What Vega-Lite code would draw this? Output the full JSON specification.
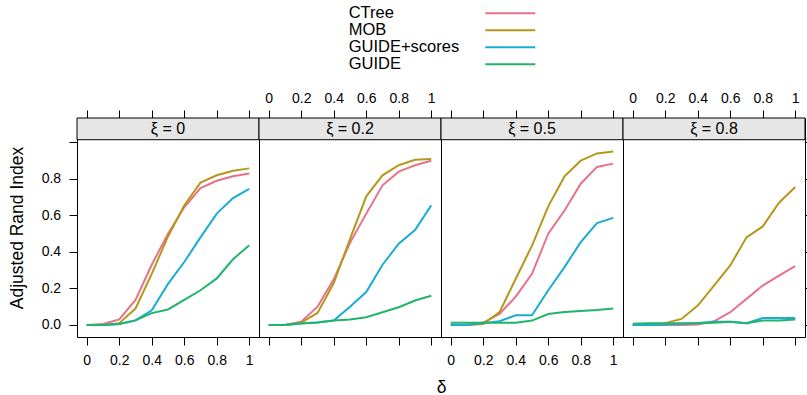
{
  "$schema": "https://vega.github.io/schema/vega-lite/v6.json",
  "padding": {"left": 7, "top": 5, "right": 0, "bottom": 0},
  "spacing": 17,
  "data": {"values": [
    {"xi":0,"m":"CTree","d":0,"a":0},{"xi":0,"m":"CTree","d":0.1,"a":0.005},{"xi":0,"m":"CTree","d":0.2,"a":0.03},{"xi":0,"m":"CTree","d":0.3,"a":0.137},{"xi":0,"m":"CTree","d":0.4,"a":0.33},{"xi":0,"m":"CTree","d":0.5,"a":0.5},{"xi":0,"m":"CTree","d":0.6,"a":0.645},{"xi":0,"m":"CTree","d":0.7,"a":0.75},{"xi":0,"m":"CTree","d":0.8,"a":0.79},{"xi":0,"m":"CTree","d":0.9,"a":0.815},{"xi":0,"m":"CTree","d":1,"a":0.83},
    {"xi":0,"m":"MOB","d":0,"a":0},{"xi":0,"m":"MOB","d":0.1,"a":0},{"xi":0,"m":"MOB","d":0.2,"a":0.01},{"xi":0,"m":"MOB","d":0.3,"a":0.09},{"xi":0,"m":"MOB","d":0.4,"a":0.28},{"xi":0,"m":"MOB","d":0.5,"a":0.485},{"xi":0,"m":"MOB","d":0.6,"a":0.655},{"xi":0,"m":"MOB","d":0.7,"a":0.78},{"xi":0,"m":"MOB","d":0.8,"a":0.82},{"xi":0,"m":"MOB","d":0.9,"a":0.845},{"xi":0,"m":"MOB","d":1,"a":0.858},
    {"xi":0,"m":"GUIDE+scores","d":0,"a":0},{"xi":0,"m":"GUIDE+scores","d":0.1,"a":0},{"xi":0,"m":"GUIDE+scores","d":0.2,"a":0.005},{"xi":0,"m":"GUIDE+scores","d":0.3,"a":0.025},{"xi":0,"m":"GUIDE+scores","d":0.4,"a":0.08},{"xi":0,"m":"GUIDE+scores","d":0.5,"a":0.225},{"xi":0,"m":"GUIDE+scores","d":0.6,"a":0.345},{"xi":0,"m":"GUIDE+scores","d":0.7,"a":0.48},{"xi":0,"m":"GUIDE+scores","d":0.8,"a":0.61},{"xi":0,"m":"GUIDE+scores","d":0.9,"a":0.695},{"xi":0,"m":"GUIDE+scores","d":1,"a":0.745},
    {"xi":0,"m":"GUIDE","d":0,"a":0},{"xi":0,"m":"GUIDE","d":0.1,"a":0},{"xi":0,"m":"GUIDE","d":0.2,"a":0.005},{"xi":0,"m":"GUIDE","d":0.3,"a":0.025},{"xi":0,"m":"GUIDE","d":0.4,"a":0.065},{"xi":0,"m":"GUIDE","d":0.5,"a":0.085},{"xi":0,"m":"GUIDE","d":0.6,"a":0.137},{"xi":0,"m":"GUIDE","d":0.7,"a":0.19},{"xi":0,"m":"GUIDE","d":0.8,"a":0.255},{"xi":0,"m":"GUIDE","d":0.9,"a":0.36},{"xi":0,"m":"GUIDE","d":1,"a":0.437},
    {"xi":0.2,"m":"CTree","d":0,"a":0},{"xi":0.2,"m":"CTree","d":0.1,"a":0},{"xi":0.2,"m":"CTree","d":0.2,"a":0.018},{"xi":0.2,"m":"CTree","d":0.3,"a":0.1},{"xi":0.2,"m":"CTree","d":0.4,"a":0.25},{"xi":0.2,"m":"CTree","d":0.5,"a":0.45},{"xi":0.2,"m":"CTree","d":0.6,"a":0.61},{"xi":0.2,"m":"CTree","d":0.7,"a":0.765},{"xi":0.2,"m":"CTree","d":0.8,"a":0.84},{"xi":0.2,"m":"CTree","d":0.9,"a":0.875},{"xi":0.2,"m":"CTree","d":1,"a":0.9},
    {"xi":0.2,"m":"MOB","d":0,"a":0},{"xi":0.2,"m":"MOB","d":0.1,"a":0},{"xi":0.2,"m":"MOB","d":0.2,"a":0.013},{"xi":0.2,"m":"MOB","d":0.3,"a":0.066},{"xi":0.2,"m":"MOB","d":0.4,"a":0.23},{"xi":0.2,"m":"MOB","d":0.5,"a":0.47},{"xi":0.2,"m":"MOB","d":0.6,"a":0.705},{"xi":0.2,"m":"MOB","d":0.7,"a":0.82},{"xi":0.2,"m":"MOB","d":0.8,"a":0.875},{"xi":0.2,"m":"MOB","d":0.9,"a":0.905},{"xi":0.2,"m":"MOB","d":1,"a":0.91},
    {"xi":0.2,"m":"GUIDE+scores","d":0,"a":0},{"xi":0.2,"m":"GUIDE+scores","d":0.1,"a":0},{"xi":0.2,"m":"GUIDE+scores","d":0.2,"a":0.008},{"xi":0.2,"m":"GUIDE+scores","d":0.3,"a":0.013},{"xi":0.2,"m":"GUIDE+scores","d":0.4,"a":0.024},{"xi":0.2,"m":"GUIDE+scores","d":0.5,"a":0.1},{"xi":0.2,"m":"GUIDE+scores","d":0.6,"a":0.18},{"xi":0.2,"m":"GUIDE+scores","d":0.7,"a":0.33},{"xi":0.2,"m":"GUIDE+scores","d":0.8,"a":0.445},{"xi":0.2,"m":"GUIDE+scores","d":0.9,"a":0.52},{"xi":0.2,"m":"GUIDE+scores","d":1,"a":0.655},
    {"xi":0.2,"m":"GUIDE","d":0,"a":0},{"xi":0.2,"m":"GUIDE","d":0.1,"a":0},{"xi":0.2,"m":"GUIDE","d":0.2,"a":0.009},{"xi":0.2,"m":"GUIDE","d":0.3,"a":0.013},{"xi":0.2,"m":"GUIDE","d":0.4,"a":0.024},{"xi":0.2,"m":"GUIDE","d":0.5,"a":0.03},{"xi":0.2,"m":"GUIDE","d":0.6,"a":0.042},{"xi":0.2,"m":"GUIDE","d":0.7,"a":0.07},{"xi":0.2,"m":"GUIDE","d":0.8,"a":0.097},{"xi":0.2,"m":"GUIDE","d":0.9,"a":0.134},{"xi":0.2,"m":"GUIDE","d":1,"a":0.16},
    {"xi":0.5,"m":"CTree","d":0,"a":0},{"xi":0.5,"m":"CTree","d":0.1,"a":0},{"xi":0.5,"m":"CTree","d":0.2,"a":0.013},{"xi":0.5,"m":"CTree","d":0.3,"a":0.06},{"xi":0.5,"m":"CTree","d":0.4,"a":0.155},{"xi":0.5,"m":"CTree","d":0.5,"a":0.28},{"xi":0.5,"m":"CTree","d":0.6,"a":0.5},{"xi":0.5,"m":"CTree","d":0.7,"a":0.627},{"xi":0.5,"m":"CTree","d":0.8,"a":0.774},{"xi":0.5,"m":"CTree","d":0.9,"a":0.866},{"xi":0.5,"m":"CTree","d":1,"a":0.884},
    {"xi":0.5,"m":"MOB","d":0,"a":0},{"xi":0.5,"m":"MOB","d":0.1,"a":0},{"xi":0.5,"m":"MOB","d":0.2,"a":0.005},{"xi":0.5,"m":"MOB","d":0.3,"a":0.07},{"xi":0.5,"m":"MOB","d":0.4,"a":0.253},{"xi":0.5,"m":"MOB","d":0.5,"a":0.435},{"xi":0.5,"m":"MOB","d":0.6,"a":0.65},{"xi":0.5,"m":"MOB","d":0.7,"a":0.814},{"xi":0.5,"m":"MOB","d":0.8,"a":0.9},{"xi":0.5,"m":"MOB","d":0.9,"a":0.94},{"xi":0.5,"m":"MOB","d":1,"a":0.95},
    {"xi":0.5,"m":"GUIDE+scores","d":0,"a":0},{"xi":0.5,"m":"GUIDE+scores","d":0.1,"a":0},{"xi":0.5,"m":"GUIDE+scores","d":0.2,"a":0.01},{"xi":0.5,"m":"GUIDE+scores","d":0.3,"a":0.02},{"xi":0.5,"m":"GUIDE+scores","d":0.4,"a":0.053},{"xi":0.5,"m":"GUIDE+scores","d":0.5,"a":0.053},{"xi":0.5,"m":"GUIDE+scores","d":0.6,"a":0.19},{"xi":0.5,"m":"GUIDE+scores","d":0.7,"a":0.317},{"xi":0.5,"m":"GUIDE+scores","d":0.8,"a":0.454},{"xi":0.5,"m":"GUIDE+scores","d":0.9,"a":0.558},{"xi":0.5,"m":"GUIDE+scores","d":1,"a":0.587},
    {"xi":0.5,"m":"GUIDE","d":0,"a":0.012},{"xi":0.5,"m":"GUIDE","d":0.1,"a":0.012},{"xi":0.5,"m":"GUIDE","d":0.2,"a":0.012},{"xi":0.5,"m":"GUIDE","d":0.3,"a":0.012},{"xi":0.5,"m":"GUIDE","d":0.4,"a":0.012},{"xi":0.5,"m":"GUIDE","d":0.5,"a":0.024},{"xi":0.5,"m":"GUIDE","d":0.6,"a":0.06},{"xi":0.5,"m":"GUIDE","d":0.7,"a":0.071},{"xi":0.5,"m":"GUIDE","d":0.8,"a":0.077},{"xi":0.5,"m":"GUIDE","d":0.9,"a":0.082},{"xi":0.5,"m":"GUIDE","d":1,"a":0.09},
    {"xi":0.8,"m":"CTree","d":0,"a":0},{"xi":0.8,"m":"CTree","d":0.1,"a":0},{"xi":0.8,"m":"CTree","d":0.2,"a":0},{"xi":0.8,"m":"CTree","d":0.3,"a":0},{"xi":0.8,"m":"CTree","d":0.4,"a":0.002},{"xi":0.8,"m":"CTree","d":0.5,"a":0.02},{"xi":0.8,"m":"CTree","d":0.6,"a":0.07},{"xi":0.8,"m":"CTree","d":0.7,"a":0.143},{"xi":0.8,"m":"CTree","d":0.8,"a":0.216},{"xi":0.8,"m":"CTree","d":0.9,"a":0.27},{"xi":0.8,"m":"CTree","d":1,"a":0.322},
    {"xi":0.8,"m":"MOB","d":0,"a":0},{"xi":0.8,"m":"MOB","d":0.1,"a":0},{"xi":0.8,"m":"MOB","d":0.2,"a":0.01},{"xi":0.8,"m":"MOB","d":0.3,"a":0.033},{"xi":0.8,"m":"MOB","d":0.4,"a":0.106},{"xi":0.8,"m":"MOB","d":0.5,"a":0.216},{"xi":0.8,"m":"MOB","d":0.6,"a":0.326},{"xi":0.8,"m":"MOB","d":0.7,"a":0.48},{"xi":0.8,"m":"MOB","d":0.8,"a":0.54},{"xi":0.8,"m":"MOB","d":0.9,"a":0.67},{"xi":0.8,"m":"MOB","d":1,"a":0.756},
    {"xi":0.8,"m":"GUIDE+scores","d":0,"a":0},{"xi":0.8,"m":"GUIDE+scores","d":0.1,"a":0},{"xi":0.8,"m":"GUIDE+scores","d":0.2,"a":0.003},{"xi":0.8,"m":"GUIDE+scores","d":0.3,"a":0.005},{"xi":0.8,"m":"GUIDE+scores","d":0.4,"a":0.011},{"xi":0.8,"m":"GUIDE+scores","d":0.5,"a":0.018},{"xi":0.8,"m":"GUIDE+scores","d":0.6,"a":0.018},{"xi":0.8,"m":"GUIDE+scores","d":0.7,"a":0.01},{"xi":0.8,"m":"GUIDE+scores","d":0.8,"a":0.038},{"xi":0.8,"m":"GUIDE+scores","d":0.9,"a":0.038},{"xi":0.8,"m":"GUIDE+scores","d":1,"a":0.038},
    {"xi":0.8,"m":"GUIDE","d":0,"a":0.007},{"xi":0.8,"m":"GUIDE","d":0.1,"a":0.009},{"xi":0.8,"m":"GUIDE","d":0.2,"a":0.009},{"xi":0.8,"m":"GUIDE","d":0.3,"a":0.009},{"xi":0.8,"m":"GUIDE","d":0.4,"a":0.009},{"xi":0.8,"m":"GUIDE","d":0.5,"a":0.012},{"xi":0.8,"m":"GUIDE","d":0.6,"a":0.018},{"xi":0.8,"m":"GUIDE","d":0.7,"a":0.009},{"xi":0.8,"m":"GUIDE","d":0.8,"a":0.024},{"xi":0.8,"m":"GUIDE","d":0.9,"a":0.024},{"xi":0.8,"m":"GUIDE","d":1,"a":0.03}
  ]},
  "vconcat": [
    {
      "width": 540, "height": 67.6,
      "view": {"stroke": null},
      "data": {"values": [{"m":"CTree"},{"m":"MOB"},{"m":"GUIDE+scores"},{"m":"GUIDE"}]},
      "encoding": {"y": {"field": "m", "type": "nominal", "scale": {"type": "point", "domain": ["CTree","MOB","GUIDE+scores","GUIDE"], "padding": 0.488}, "axis": null}},
      "layer": [
        {"mark": {"type": "text", "align": "left", "baseline": "middle", "fontSize": 16.5, "color": "black"},
         "encoding": {"text": {"field": "m"}, "x": {"datum": 0.5031, "type": "quantitative", "scale": {"domain": [0, 1], "nice": false, "zero": false}, "axis": null}}},
        {"mark": {"type": "rule", "strokeWidth": 2},
         "encoding": {"x": {"datum": 0.7561, "type": "quantitative"}, "x2": {"datum": 0.8487},
           "color": {"field": "m", "type": "nominal", "scale": {"domain": ["CTree","MOB","GUIDE+scores","GUIDE"], "range": ["#E8718C","#B5981A","#1AADD4","#21B46A"]}, "legend": null}}}
      ]
    },
    {
      "hconcat": [
        {
          "width": 182, "height": 219,
          "resolve": {"axis": {"x": "independent", "y": "independent"}},
          "layer": [
            {"transform": [{"filter": "datum.xi == 0"}],
             "mark": {"type": "line", "strokeWidth": 2},
             "encoding": {
               "x": {"field": "d", "type": "quantitative", "scale": {"domain": [-0.06, 1.06], "nice": false, "zero": false},
                     "axis": {"orient": "bottom", "values": [0,0.2,0.4,0.6,0.8,1], "format": "~g", "labelPadding": 8.5, "title": null}},
               "y": {"field": "a", "type": "quantitative", "scale": {"domain": [-0.066, 1.134], "nice": false, "zero": false},
                     "axis": {"orient": "left", "values": [0,0.2,0.4,0.6,0.8,1], "labelExpr": "datum.value > 0.9 ? '' : format(datum.value, '.1f')", "labelPadding": 8.4, "title": "Adjusted Rand Index", "titlePadding": 15}},
               "color": {"field": "m", "type": "nominal", "scale": {"domain": ["CTree","MOB","GUIDE+scores","GUIDE"], "range": ["#E8718C","#B5981A","#1AADD4","#21B46A"]}, "legend": null}}},
            {"data": {"values": [{"lab": "ξ = 0"}]},
             "mark": {"type": "rect", "fill": "#E6E6E6", "stroke": "black", "strokeWidth": 1},
             "encoding": {"y": {"datum": 1.015, "type": "quantitative", "axis": null}, "y2": {"datum": 1.134}}},
            {"data": {"values": [{"lab": "ξ = 0"}]},
             "mark": {"type": "text", "fontSize": 16, "baseline": "middle", "color": "black"},
             "encoding": {"text": {"field": "lab"},
               "x": {"datum": 0.5, "type": "quantitative", "axis": {"orient": "top", "values": [0,0.2,0.4,0.6,0.8,1], "labels": false, "title": null}},
               "y": {"datum": 1.0745, "type": "quantitative", "axis": null}}}
          ]
        },
        {
          "width": 182, "height": 219,
          "resolve": {"axis": {"x": "independent", "y": "independent"}},
          "layer": [
            {"transform": [{"filter": "datum.xi == 0.2"}],
             "mark": {"type": "line", "strokeWidth": 2},
             "encoding": {
               "x": {"field": "d", "type": "quantitative", "scale": {"domain": [-0.06, 1.06], "nice": false, "zero": false},
                     "axis": {"orient": "bottom", "values": [0,0.2,0.4,0.6,0.8,1], "labels": false, "title": "δ", "titleX": 182, "titleY": 55, "titleBaseline": "alphabetic", "titleFontSize": 17.5}},
               "y": {"field": "a", "type": "quantitative", "scale": {"domain": [-0.066, 1.134], "nice": false, "zero": false}, "axis": null},
               "color": {"field": "m", "type": "nominal", "legend": null}}},
            {"data": {"values": [{"lab": "ξ = 0.2"}]},
             "mark": {"type": "rect", "fill": "#E6E6E6", "stroke": "black", "strokeWidth": 1},
             "encoding": {"y": {"datum": 1.015, "type": "quantitative", "axis": null}, "y2": {"datum": 1.134}}},
            {"data": {"values": [{"lab": "ξ = 0.2"}]},
             "mark": {"type": "text", "fontSize": 16, "baseline": "middle", "color": "black"},
             "encoding": {"text": {"field": "lab"},
               "x": {"datum": 0.5, "type": "quantitative", "axis": {"orient": "top", "values": [0,0.2,0.4,0.6,0.8,1], "format": "~g", "labelPadding": 5, "title": null}},
               "y": {"datum": 1.0745, "type": "quantitative", "axis": null}}}
          ]
        },
        {
          "width": 182, "height": 219,
          "resolve": {"axis": {"x": "independent", "y": "independent"}},
          "layer": [
            {"transform": [{"filter": "datum.xi == 0.5"}],
             "mark": {"type": "line", "strokeWidth": 2},
             "encoding": {
               "x": {"field": "d", "type": "quantitative", "scale": {"domain": [-0.06, 1.06], "nice": false, "zero": false},
                     "axis": {"orient": "bottom", "values": [0,0.2,0.4,0.6,0.8,1], "format": "~g", "labelPadding": 8.5, "title": null}},
               "y": {"field": "a", "type": "quantitative", "scale": {"domain": [-0.066, 1.134], "nice": false, "zero": false}, "axis": null},
               "color": {"field": "m", "type": "nominal", "legend": null}}},
            {"data": {"values": [{"lab": "ξ = 0.5"}]},
             "mark": {"type": "rect", "fill": "#E6E6E6", "stroke": "black", "strokeWidth": 1},
             "encoding": {"y": {"datum": 1.015, "type": "quantitative", "axis": null}, "y2": {"datum": 1.134}}},
            {"data": {"values": [{"lab": "ξ = 0.5"}]},
             "mark": {"type": "text", "fontSize": 16, "baseline": "middle", "color": "black"},
             "encoding": {"text": {"field": "lab"},
               "x": {"datum": 0.5, "type": "quantitative", "axis": {"orient": "top", "values": [0,0.2,0.4,0.6,0.8,1], "labels": false, "title": null}},
               "y": {"datum": 1.0745, "type": "quantitative", "axis": null}}}
          ]
        },
        {
          "width": 182, "height": 219,
          "resolve": {"axis": {"x": "independent", "y": "independent"}},
          "layer": [
            {"transform": [{"filter": "datum.xi == 0.8"}],
             "mark": {"type": "line", "strokeWidth": 2},
             "encoding": {
               "x": {"field": "d", "type": "quantitative", "scale": {"domain": [-0.06, 1.06], "nice": false, "zero": false},
                     "axis": {"orient": "bottom", "values": [0,0.2,0.4,0.6,0.8,1], "labels": false, "title": null}},
               "y": {"field": "a", "type": "quantitative", "scale": {"domain": [-0.066, 1.134], "nice": false, "zero": false},
                     "axis": {"orient": "right", "values": [0,0.2,0.4,0.6,0.8,1], "labels": false, "tickSize": 3, "title": null}},
               "color": {"field": "m", "type": "nominal", "legend": null}}},
            {"data": {"values": [{"lab": "ξ = 0.8"}]},
             "mark": {"type": "rect", "fill": "#E6E6E6", "stroke": "black", "strokeWidth": 1},
             "encoding": {"y": {"datum": 1.015, "type": "quantitative", "axis": null}, "y2": {"datum": 1.134}}},
            {"data": {"values": [{"lab": "ξ = 0.8"}]},
             "mark": {"type": "text", "fontSize": 16, "baseline": "middle", "color": "black"},
             "encoding": {"text": {"field": "lab"},
               "x": {"datum": 0.5, "type": "quantitative", "axis": {"orient": "top", "values": [0,0.2,0.4,0.6,0.8,1], "format": "~g", "labelPadding": 5, "title": null}},
               "y": {"datum": 1.0745, "type": "quantitative", "axis": null}}}
          ]
        }
      ],
      "spacing": 0,
      "bounds": "flush"
    }
  ],
  "config": {
    "font": "Liberation Sans",
    "view": {"stroke": "black", "strokeWidth": 1},
    "axis": {"domain": false, "grid": false, "tickColor": "black", "tickWidth": 1, "tickSize": 8,
             "labelColor": "black", "labelFontSize": 14, "labelFlush": false, "labelOverlap": false,
             "titleColor": "black", "titleFontWeight": "normal", "titleFontSize": 17.5}
  }
}
